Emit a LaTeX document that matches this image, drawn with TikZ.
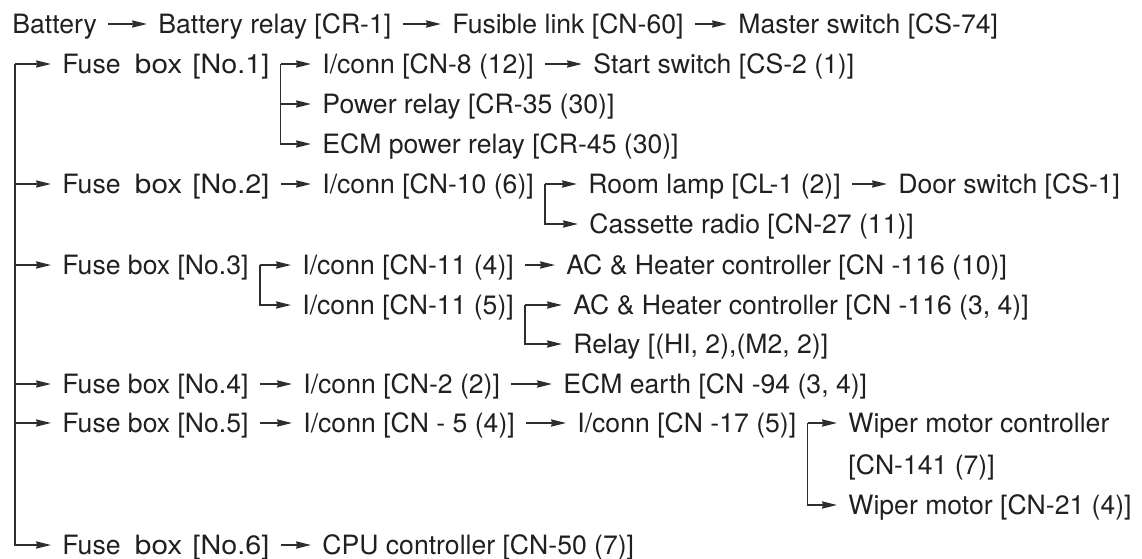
\documentclass[tikz,border=0pt]{standalone}
\usepackage{fontspec}
\setmainfont{TeX Gyre Heros}
\usepackage{graphicx}
\usepackage{tikz}
\usetikzlibrary{arrows.meta}
\tikzset{every picture/.append style={font=\fontsize{13.3}{15}\selectfont}}
\definecolor{figink}{HTML}{231F20}
\definecolor{figwire}{HTML}{2E2E2E}
\tikzset{
  part/.style={anchor=west,inner xsep=5.5pt,inner ysep=0pt,text height=12.6pt,text depth=3pt,text=figink},
  feed/.style={draw=figwire,line width=0.7pt,-{Stealth[length=7.5pt,width=3.6pt,inset=0.6pt]}},
}
\newcommand{\widefuse}[1]{Fuse\hspace{3.5pt} \scalebox{1.12}[1]{box}\hspace{1.5pt} \scalebox{1.08}[1]{[No.#1]}}

\begin{document}
\begin{tikzpicture}[x=0.5pt,y=-0.5pt]
    \useasboundingbox (0,0) rectangle (1142,558);
    \node[part] (bat)  at (1,24)   {Battery};
    \node[part] (bre)  at (147,24) {Battery relay [CR-1]};
    \node[part] (fus)  at (441,24) {Fusible link [CN-60]};
    \node[part] (msw)  at (727,24) {Master switch [CS-74]};
    \node[part] (f1)   at (51,64)   {\widefuse{1}};
    \node[part] (c8)   at (311,64)  {I/conn [CN-8 (12)]};
    \node[part] (ssw)  at (582,64)  {Start switch [CS-2 (1)]};
    \node[part] (prl)  at (311,104) {Power relay [CR-35 (30)]};
    \node[part] (epr)  at (311,144) {ECM power relay [CR-45 (30)]};
    \node[part] (f2)   at (51,184)  {\widefuse{2}};
    \node[part] (c10)  at (311,184) {I/conn [CN-10 (6)]};
    \node[part] (rlp)  at (577,184) {Room lamp [CL-1 (2)]};
    \node[part] (dsw)  at (887,184) {Door switch [CS-1]};
    \node[part] (crd)  at (578,224) {Cassette radio [CN-27 (11)]};
    \node[part] (f3)   at (51,265)  {Fuse box [No.3]};
    \node[part] (c11a) at (291,265) {I/conn [CN-11 (4)]};
    \node[part] (ach1) at (555,265) {AC \& Heater controller [CN -116 (10)]};
    \node[part] (c11b) at (291,305) {I/conn [CN-11 (5)]};
    \node[part] (ach2) at (562,305) {AC \& Heater controller [CN -116 (3, 4)]};
    \node[part] (rly)  at (562,344) {Relay [(HI, 2),(M2, 2)]};
    \node[part] (f4)   at (51,384)  {Fuse box [No.4]};
    \node[part] (c2)   at (292,384) {I/conn [CN-2 (2)]};
    \node[part] (ece)  at (552,384) {ECM earth [CN -94 (3, 4)]};
    \node[part] (f5)   at (51,423)  {Fuse box [No.5]};
    \node[part] (c5)   at (292,423) {I/conn [CN - 5 (4)]};
    \node[part] (c17)  at (566,423) {I/conn [CN -17 (5)]};
    \node[part] (wmc)  at (837,423) {Wiper motor controller};
    \node[part] (wmn)  at (837,465) {[CN-141 (7)]};
    \node[part] (wmo)  at (837,505) {Wiper motor [CN-21 (4)]};
    \node[part] (f6)   at (51,545)  {\widefuse{6}};
    \node[part] (cpu)  at (311,545) {CPU controller [CN-50 (7)]};
    \coordinate (bus) at (15,64);
    \draw[feed] (bat.east) -- (bre.west);
    \draw[feed] (bre.east) -- (fus.west);
    \draw[feed] (fus.east) -- (msw.west);
    \foreach \f in {f1,f2,f3,f4,f5,f6} {\draw[feed] (bus) |- (\f.west);}
    \foreach \t in {c8,prl,epr} {\draw[feed] (f1.east) |- (\t.west);}
    \draw[feed] (c8.east) -- (ssw.west);
    \draw[feed] (f2.east) -- (c10.west);
    \foreach \t in {rlp,crd} {\draw[feed] (c10.east) |- (\t.west);}
    \draw[feed] (rlp.east) -- (dsw.west);
    \foreach \t in {c11a,c11b} {\draw[feed] (f3.east) |- (\t.west);}
    \draw[feed] (c11a.east) -- (ach1.west);
    \foreach \t in {ach2,rly} {\draw[feed] (c11b.east) |- (\t.west);}
    \draw[feed] (f4.east) -- (c2.west);
    \draw[feed] (c2.east) -- (ece.west);
    \draw[feed] (f5.east) -- (c5.west);
    \draw[feed] (c5.east) -- (c17.west);
    \foreach \t in {wmc,wmo} {\draw[feed] (c17.east) |- (\t.west);}
    \draw[feed] (f6.east) -- (cpu.west);
\end{tikzpicture}
\end{document}
